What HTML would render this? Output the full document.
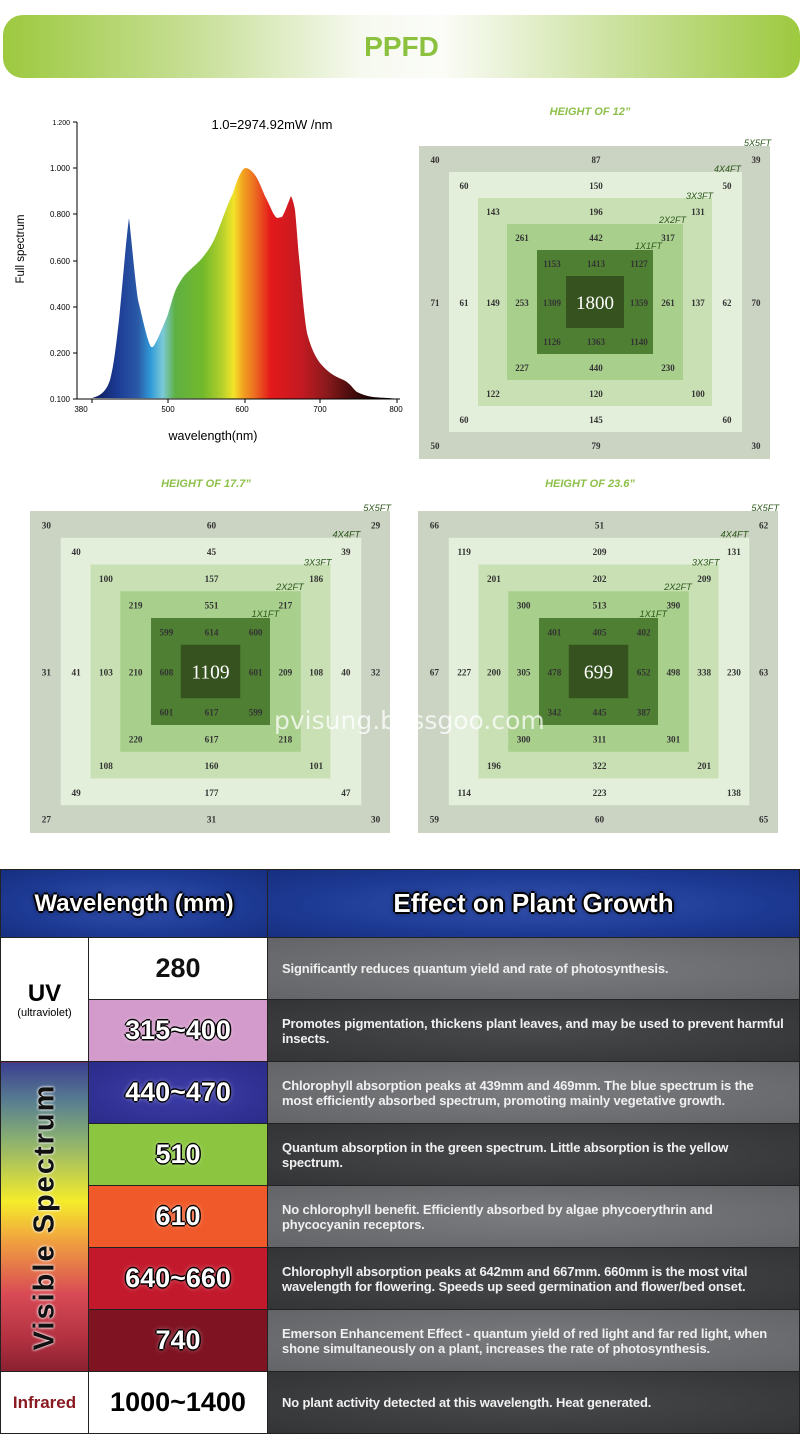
<!DOCTYPE html>
<html><head><meta charset="utf-8">
<style>
*{margin:0;padding:0;box-sizing:border-box}
body{width:800px;height:1451px;background:#fff;position:relative;overflow:hidden;font-family:"Liberation Sans",sans-serif}
.abs{position:absolute}
.pill{left:3px;top:15px;width:797px;height:63px;border-radius:20px;background:linear-gradient(90deg,#9dc93f 0%,#c9e09a 25%,#f6f9ef 45%,#fbfcf8 55%,#c9e09a 78%,#9dc93f 100%);text-align:center;line-height:63px;font-weight:bold;font-size:28px;color:#8cc13f}
.ttl{font-style:italic;font-weight:bold;font-size:11px;color:#8dc04a;text-align:center}
table{position:absolute;left:0;top:869px;width:800px;border-collapse:collapse}
td{border:1px solid #222;padding:0;height:62px}
.hd{height:68px;background:radial-gradient(ellipse at center,#3553b0 0%,#1d3a94 60%,#172f80 100%);color:#fff;font-weight:bold;text-align:center;text-shadow:-2px 0 #000,2px 0 #000,0 -2px #000,0 2px #000,0 0 6px #000}
.num{text-align:center;font-size:27px;font-weight:bold;font-family:"Liberation Sans Narrow","Liberation Sans",sans-serif;color:#fff;text-shadow:-1.5px 0 #000,1.5px 0 #000,0 -1.5px #000,0 1.5px #000,0 0 6px rgba(255,255,255,.6)}
.d{color:#f0f0f0;font-size:13px;letter-spacing:-0.15px;font-weight:bold;font-family:"Liberation Sans Narrow","Liberation Sans",sans-serif;padding:0 14px 0 14px;line-height:15px}
.g1{background:radial-gradient(ellipse at center,#7a7b7e 0%,#636467 100%)}
.g2{background:radial-gradient(ellipse at center,#47484a 0%,#333436 100%)}
</style></head><body>
<div class="abs pill">PPFD</div>

<svg class="abs" style="left:0;top:100px" width="410" height="350" viewBox="0 100 410 350">
<defs>
<linearGradient id="sp" x1="92" x2="400" gradientUnits="userSpaceOnUse">
<stop offset="0" stop-color="#0b1a55"/>
<stop offset="0.08" stop-color="#1c3a93"/>
<stop offset="0.15" stop-color="#2b5aa8"/>
<stop offset="0.19" stop-color="#2f9ad8"/>
<stop offset="0.23" stop-color="#7cc9d8"/>
<stop offset="0.27" stop-color="#5fb043"/>
<stop offset="0.36" stop-color="#72b92b"/>
<stop offset="0.42" stop-color="#b2cf2c"/>
<stop offset="0.46" stop-color="#f2e42a"/>
<stop offset="0.49" stop-color="#f2a321"/>
<stop offset="0.53" stop-color="#ec6a21"/>
<stop offset="0.58" stop-color="#e3191b"/>
<stop offset="0.68" stop-color="#c41a22"/>
<stop offset="0.76" stop-color="#8b1a1d"/>
<stop offset="0.84" stop-color="#4a0c0c"/>
<stop offset="0.9" stop-color="#1a0404"/>
<stop offset="1" stop-color="#000"/>
</linearGradient></defs>
<path d="M92,398 C100,396 106,392 110,380 C114,365 116,345 119,320 C123,280 126,240 129,218 C132,245 135,280 138,300 C143,320 147,340 151,347 L153,347 C158,340 162,328 167,317 C171,305 173,295 177,287 C182,278 185,274 190,270 C196,264 199,262 203,257 C210,248 213,243 217,233 C223,218 228,203 233,193 C237,180 241,170 245,168 C249,168 252,171 255,175 C260,182 263,193 267,200 C271,208 273,215 277,218 L282,217 C285,212 288,203 291,196 C293,200 294,205 295,210 C297,230 298,250 300,267 C302,290 304,315 307,333 C311,348 315,356 320,363 C326,370 331,374 337,377 C341,379 345,380 348,383 C352,386 354,390 357,392 C363,395 367,396 373,397 C383,398 390,398 398,399 Z" fill="url(#sp)"/>
<line x1="77" y1="122" x2="77" y2="399" stroke="#000" stroke-width="1"/>
<line x1="77" y1="399" x2="400" y2="399" stroke="#000" stroke-width="1"/>
<g stroke="#000">
<line x1="73" y1="122" x2="77" y2="122"/><line x1="73" y1="168" x2="77" y2="168"/><line x1="73" y1="214" x2="77" y2="214"/><line x1="73" y1="261" x2="77" y2="261"/><line x1="73" y1="307" x2="77" y2="307"/><line x1="73" y1="353" x2="77" y2="353"/><line x1="73" y1="399" x2="77" y2="399"/>
<line x1="92" y1="399" x2="92" y2="403"/><line x1="168" y1="399" x2="168" y2="403"/><line x1="245" y1="399" x2="245" y2="403"/><line x1="320" y1="399" x2="320" y2="403"/><line x1="397" y1="399" x2="397" y2="403"/>
</g>
<g font-size="8" text-anchor="end" fill="#000" font-family="Liberation Sans">
<text x="70" y="125" font-size="7">1.200</text><text x="70" y="171">1.000</text><text x="70" y="217">0.800</text><text x="70" y="264">0.600</text><text x="70" y="310">0.400</text><text x="70" y="356">0.200</text><text x="70" y="402">0.100</text>
</g>
<g font-size="8" text-anchor="middle" fill="#000" font-family="Liberation Sans">
<text x="81" y="412">380</text><text x="168" y="412">500</text><text x="242" y="412">600</text><text x="320" y="412">700</text><text x="396" y="412">800</text>
</g>
<text x="272" y="129" font-size="13" text-anchor="middle" font-family="Liberation Sans">1.0=2974.92mW /nm</text>
<text x="213" y="440" font-size="12.5" text-anchor="middle" font-family="Liberation Sans">wavelength(nm)</text>
<text transform="translate(24,249) rotate(-90)" font-size="11.5" text-anchor="middle" font-family="Liberation Sans">Full spectrum</text>
</svg>

<div class="abs ttl" style="left:500px;top:106px;width:180px">HEIGHT OF 12”</div>
<div class="abs ttl" style="left:116px;top:478px;width:180px">HEIGHT OF 17.7”</div>
<div class="abs ttl" style="left:500px;top:478px;width:180px">HEIGHT OF 23.6”</div>

<svg class="abs" style="left:419px;top:146px;overflow:visible" width="351" height="313" viewBox="0 0 351 313">
<rect width="351" height="313" fill="#cbd3c3"/><rect x="30" y="26" width="293" height="260" fill="#e3efdb"/><rect x="59" y="52" width="234" height="208" fill="#c8e0b4"/><rect x="88" y="78" width="176" height="156" fill="#a8cf8c"/><rect x="118" y="104" width="116" height="104" fill="#4f7f33"/><rect x="147" y="130" width="58" height="52" fill="#36531f"/>
<g font-family="Liberation Sans" font-style="italic" font-size="9" fill="#2d5a1a"><text x="325" y="0">5X5FT</text><text x="295" y="26">4X4FT</text><text x="267" y="53">3X3FT</text><text x="240" y="77">2X2FT</text><text x="216" y="103">1X1FT</text></g>
<g font-family="Liberation Serif" font-weight="bold" font-size="9" fill="#333" text-anchor="middle">
<text x="16" y="17">40</text><text x="177" y="17">87</text><text x="337" y="17">39</text>
<text x="45" y="43">60</text><text x="177" y="43">150</text><text x="308" y="43">50</text>
<text x="74" y="69">143</text><text x="177" y="69">196</text><text x="279" y="69">131</text>
<text x="103" y="95">261</text><text x="177" y="95">442</text><text x="249" y="95">317</text>
<text x="133" y="121">1153</text><text x="177" y="121">1413</text><text x="220" y="121">1127</text>
<text x="16" y="160">71</text><text x="45" y="160">61</text><text x="74" y="160">149</text><text x="103" y="160">253</text><text x="133" y="160">1309</text><text x="220" y="160">1359</text><text x="249" y="160">261</text><text x="279" y="160">137</text><text x="308" y="160">62</text><text x="337" y="160">70</text>
<text x="133" y="199">1126</text><text x="177" y="199">1363</text><text x="220" y="199">1140</text>
<text x="103" y="225">227</text><text x="177" y="225">440</text><text x="249" y="225">230</text>
<text x="74" y="251">122</text><text x="177" y="251">120</text><text x="279" y="251">100</text>
<text x="45" y="277">60</text><text x="177" y="277">145</text><text x="308" y="277">60</text>
<text x="16" y="303">50</text><text x="177" y="303">79</text><text x="337" y="303">30</text>
</g>
<text x="176" y="163" font-family="Liberation Serif" font-size="19" fill="#fff" text-anchor="middle">1800</text>
</svg>

<svg class="abs" style="left:30px;top:511px;overflow:visible" width="360" height="322" viewBox="0 0 351 313" preserveAspectRatio="none">
<rect width="351" height="313" fill="#cbd3c3"/><rect x="30" y="26" width="293" height="260" fill="#e3efdb"/><rect x="59" y="52" width="234" height="208" fill="#c8e0b4"/><rect x="88" y="78" width="176" height="156" fill="#a8cf8c"/><rect x="118" y="104" width="116" height="104" fill="#4f7f33"/><rect x="147" y="130" width="58" height="52" fill="#36531f"/>
<g font-family="Liberation Sans" font-style="italic" font-size="9" fill="#2d5a1a"><text x="325" y="0">5X5FT</text><text x="295" y="26">4X4FT</text><text x="267" y="53">3X3FT</text><text x="240" y="77">2X2FT</text><text x="216" y="103">1X1FT</text></g>
<g font-family="Liberation Serif" font-weight="bold" font-size="9" fill="#333" text-anchor="middle">
<text x="16" y="17">30</text><text x="177" y="17">60</text><text x="337" y="17">29</text>
<text x="45" y="43">40</text><text x="177" y="43">45</text><text x="308" y="43">39</text>
<text x="74" y="69">100</text><text x="177" y="69">157</text><text x="279" y="69">186</text>
<text x="103" y="95">219</text><text x="177" y="95">551</text><text x="249" y="95">217</text>
<text x="133" y="121">599</text><text x="177" y="121">614</text><text x="220" y="121">600</text>
<text x="16" y="160">31</text><text x="45" y="160">41</text><text x="74" y="160">103</text><text x="103" y="160">210</text><text x="133" y="160">608</text><text x="220" y="160">601</text><text x="249" y="160">209</text><text x="279" y="160">108</text><text x="308" y="160">40</text><text x="337" y="160">32</text>
<text x="133" y="199">601</text><text x="177" y="199">617</text><text x="220" y="199">599</text>
<text x="103" y="225">220</text><text x="177" y="225">617</text><text x="249" y="225">218</text>
<text x="74" y="251">108</text><text x="177" y="251">160</text><text x="279" y="251">101</text>
<text x="45" y="277">49</text><text x="177" y="277">177</text><text x="308" y="277">47</text>
<text x="16" y="303">27</text><text x="177" y="303">31</text><text x="337" y="303">30</text>
</g>
<text x="176" y="163" font-family="Liberation Serif" font-size="19" fill="#fff" text-anchor="middle">1109</text>
</svg>

<svg class="abs" style="left:418px;top:511px;overflow:visible" width="360" height="322" viewBox="0 0 351 313" preserveAspectRatio="none">
<rect width="351" height="313" fill="#cbd3c3"/><rect x="30" y="26" width="293" height="260" fill="#e3efdb"/><rect x="59" y="52" width="234" height="208" fill="#c8e0b4"/><rect x="88" y="78" width="176" height="156" fill="#a8cf8c"/><rect x="118" y="104" width="116" height="104" fill="#4f7f33"/><rect x="147" y="130" width="58" height="52" fill="#36531f"/>
<g font-family="Liberation Sans" font-style="italic" font-size="9" fill="#2d5a1a"><text x="325" y="0">5X5FT</text><text x="295" y="26">4X4FT</text><text x="267" y="53">3X3FT</text><text x="240" y="77">2X2FT</text><text x="216" y="103">1X1FT</text></g>
<g font-family="Liberation Serif" font-weight="bold" font-size="9" fill="#333" text-anchor="middle">
<text x="16" y="17">66</text><text x="177" y="17">51</text><text x="337" y="17">62</text>
<text x="45" y="43">119</text><text x="177" y="43">209</text><text x="308" y="43">131</text>
<text x="74" y="69">201</text><text x="177" y="69">202</text><text x="279" y="69">209</text>
<text x="103" y="95">300</text><text x="177" y="95">513</text><text x="249" y="95">390</text>
<text x="133" y="121">401</text><text x="177" y="121">405</text><text x="220" y="121">402</text>
<text x="16" y="160">67</text><text x="45" y="160">227</text><text x="74" y="160">200</text><text x="103" y="160">305</text><text x="133" y="160">478</text><text x="220" y="160">652</text><text x="249" y="160">498</text><text x="279" y="160">338</text><text x="308" y="160">230</text><text x="337" y="160">63</text>
<text x="133" y="199">342</text><text x="177" y="199">445</text><text x="220" y="199">387</text>
<text x="103" y="225">300</text><text x="177" y="225">311</text><text x="249" y="225">301</text>
<text x="74" y="251">196</text><text x="177" y="251">322</text><text x="279" y="251">201</text>
<text x="45" y="277">114</text><text x="177" y="277">223</text><text x="308" y="277">138</text>
<text x="16" y="303">59</text><text x="177" y="303">60</text><text x="337" y="303">65</text>
</g>
<text x="176" y="163" font-family="Liberation Serif" font-size="19" fill="#fff" text-anchor="middle">699</text>
</svg>

<div class="abs" style="left:274px;top:706px;font-size:25px;color:rgba(255,255,255,0.75);font-family:'DejaVu Sans',sans-serif">pvisung.bossgoo.com</div>

<table>
<tr><td class="hd" colspan="2" style="font-size:24px;width:267px">Wavelength (mm)</td><td class="hd" style="font-size:26px">Effect on Plant Growth</td></tr>
<tr><td rowspan="2" style="width:88px;background:#fff;text-align:center"><div style="font-weight:bold;font-size:24px;line-height:26px">UV</div><div style="font-size:11px;font-family:'Liberation Sans Narrow','Liberation Sans',sans-serif">(ultraviolet)</div></td>
<td class="num" style="width:179px;background:#fff;color:#111;text-shadow:none">280</td><td class="d g1">Significantly reduces quantum yield and rate of photosynthesis.</td></tr>
<tr><td class="num" style="background:#d39bcb">315~400</td><td class="d g2">Promotes pigmentation, thickens plant leaves, and may be used to prevent harmful insects.</td></tr>
<tr><td rowspan="5" style="background:linear-gradient(180deg,#3b3f90 0%,#5a8090 13%,#8ab070 25%,#f5ec2a 45%,#f0a040 58%,#d84a55 75%,#b03040 90%,#8a2030 100%);position:relative"><div style="position:absolute;left:44px;top:155px;transform:translate(-50%,-50%) rotate(-90deg);white-space:nowrap;font-weight:bold;font-size:29px;letter-spacing:2px;color:#111;text-shadow:0 0 3px #fff,0 0 2px #fff">Visible Spectrum</div></td>
<td class="num" style="background:radial-gradient(ellipse at center,#3c3ca8 0%,#2b2b8a 100%)">440~470</td><td class="d g1">Chlorophyll absorption peaks at 439mm and 469mm. The blue spectrum is the most efficiently absorbed spectrum, promoting mainly vegetative growth.</td></tr>
<tr><td class="num" style="background:#8cc640">510</td><td class="d g2">Quantum absorption in the green spectrum. Little absorption is the yellow spectrum.</td></tr>
<tr><td class="num" style="background:#f05a2a">610</td><td class="d g1">No chlorophyll benefit. Efficiently absorbed by algae phycoerythrin and phycocyanin receptors.</td></tr>
<tr><td class="num" style="background:#c21a2c">640~660</td><td class="d g2">Chlorophyll absorption peaks at 642mm and 667mm. 660mm is the most vital wavelength for flowering. Speeds up seed germination and flower/bed onset.</td></tr>
<tr><td class="num" style="background:#7f1322">740</td><td class="d g1">Emerson Enhancement Effect - quantum yield of red light and far red light, when shone simultaneously on a plant, increases the rate of photosynthesis.</td></tr>
<tr><td style="background:#fff;text-align:center;color:#8a1a22;font-weight:bold;font-size:17px;font-family:'Liberation Sans Narrow','Liberation Sans',sans-serif">Infrared</td><td class="num" style="background:#fff;color:#000;text-shadow:none">1000~1400</td><td class="d g2">No plant activity detected at this wavelength. Heat generated.</td></tr>
</table>
</body></html>
